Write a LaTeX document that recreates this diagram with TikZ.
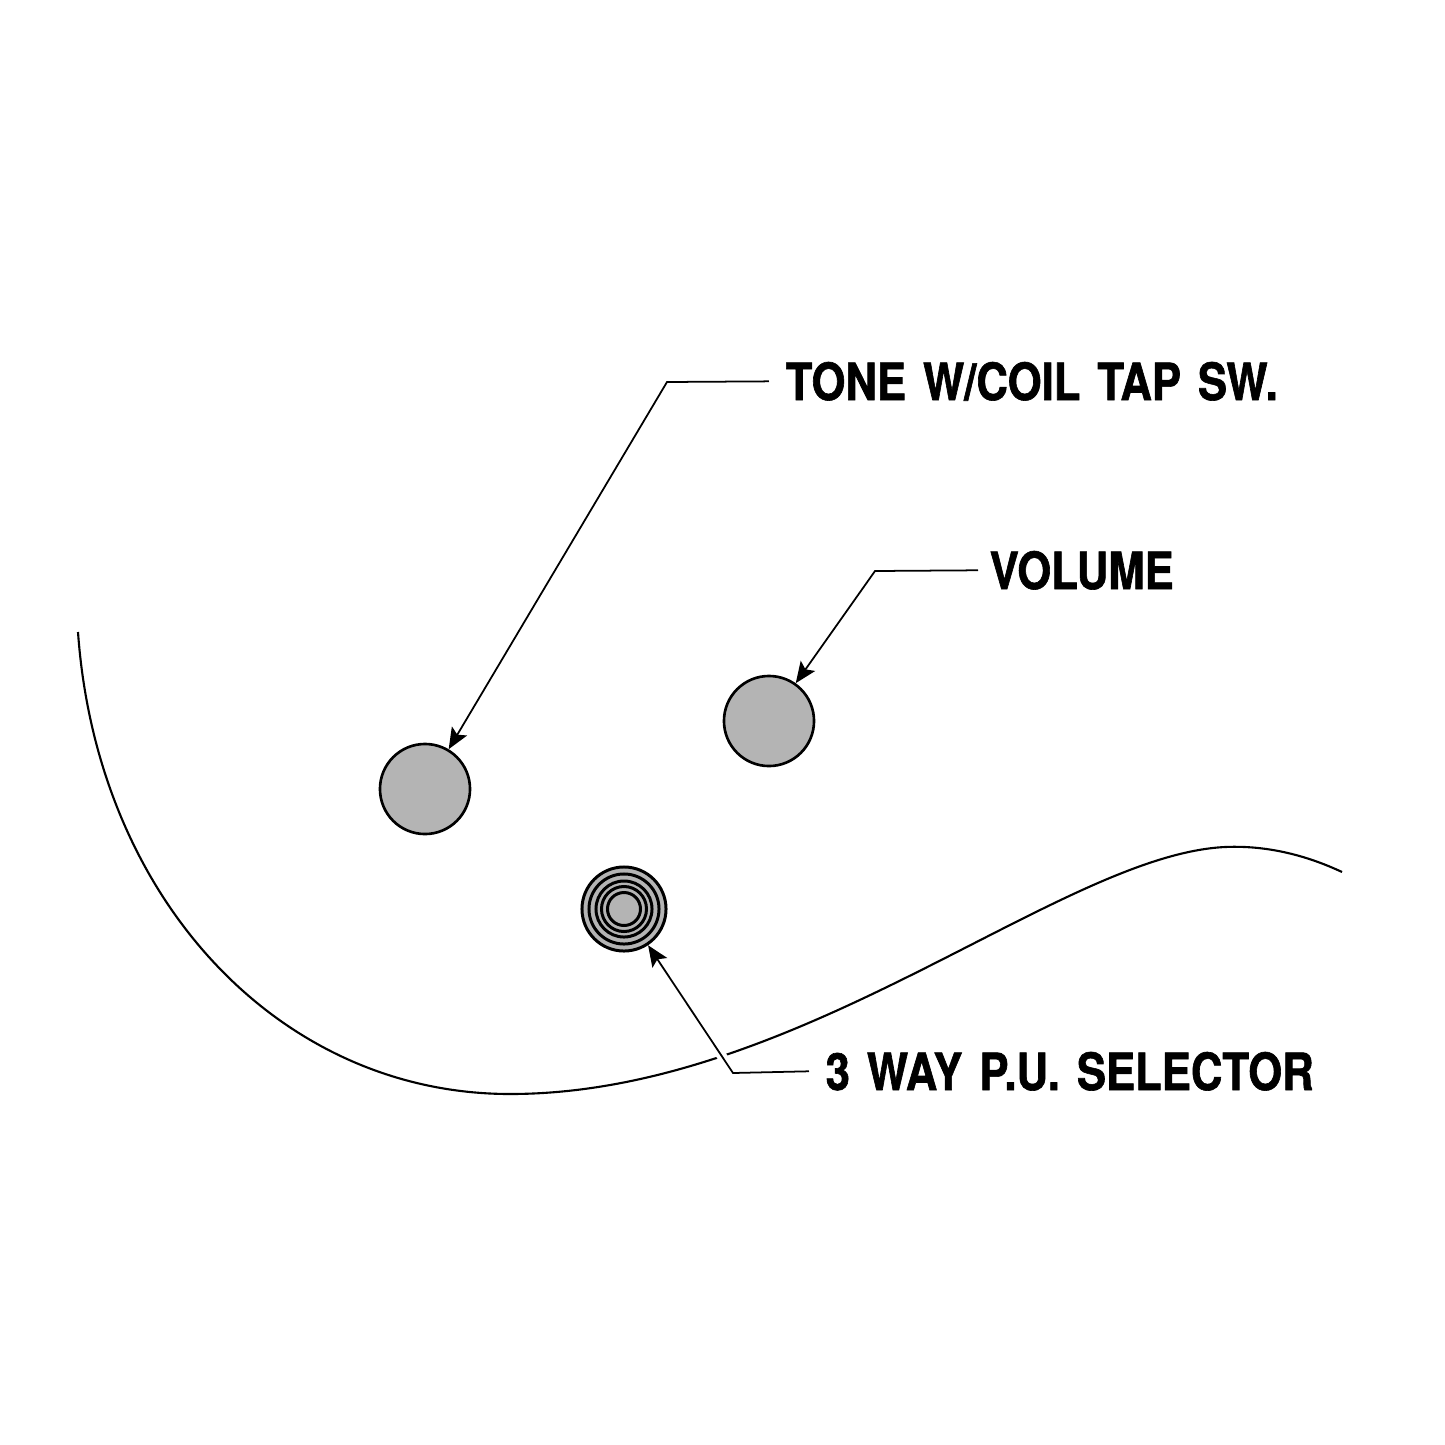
\documentclass[tikz,border=0pt]{standalone}
\usepackage{fontspec}
\usepackage{xcolor}
\usetikzlibrary{arrows.meta, calc}

\newfontfamily\calloutfont[FakeStretch=0.85, WordSpace=1.4, BoldFeatures={FakeBold=1.2}]{TeX Gyre Heros}
\definecolor{knobgray}{RGB}{180,180,180}

\tikzset{
  knob/.style={circle, draw, line width=0.75pt, fill=knobgray, minimum size=0.9cm, inner sep=0pt},
  ring/.style={line width=0.85pt},
  leader/.style={line width=0.5pt, -{Stealth[length=6pt, width=5pt, inset=1.2pt]}},
  callout/.style={inner sep=0pt, font={\calloutfont\bfseries\fontsize{14.6pt}{17pt}\selectfont}}
}

\begin{document}
\begin{tikzpicture}[x=0.01cm, y=-0.01cm]
  \useasboundingbox[fill=white] (0,0) rectangle (1445,1445);

  % Body outline
  \draw[line width=0.6pt] (78,632) .. controls (97,900) and (280,1094) .. (510,1094)
    .. controls (800,1094) and (1060,855) .. (1225,847)
    .. controls (1270,845) and (1310,857) .. (1342,872);

  % Knobs
  \node[knob] (tone) at (425,789) {};
  \node[knob] (vol) at (769,721) {};

  % Pickup selector
  \node[knob, minimum size=0.84cm, line width=0.85pt] (sel) at (624,909) {};
  \draw[ring] (sel) circle (0.35cm);
  \draw[ring] (sel) circle (0.28cm);
  \draw[ring] (sel) circle (0.225cm);
  \draw[ring] (sel) circle (0.165cm);

  % Labels
  \node[callout, anchor=base west] (tonelbl) at (785,400) {TONE W/COIL TAP SW.};
  \node[callout, anchor=base west] (vollbl) at (989,589) {VOLUME};
  \node[callout, anchor=base west] (sellbl) at (825,1090) {3 WAY P.U. SELECTOR};

  % Elbows
  \coordinate (toneelbow) at (667,382);
  \coordinate (volelbow) at (875,571);
  \coordinate (selelbow) at (733,1073);

  % Leaders
  \draw[leader] ([xshift=-0.16cm]tonelbl.west) -- (toneelbow) -- (tone);
  \draw[leader] ([xshift=-0.11cm]vollbl.west) -- (volelbow) -- (vol);
  \draw[white, line width=1mm] ($(selelbow)!0.03!(sel)$) -- ($(selelbow)!0.15!(sel)$);
  \draw[leader] ([xshift=-0.16cm]sellbl.west) -- (selelbow) -- (sel);
\end{tikzpicture}
\end{document}
